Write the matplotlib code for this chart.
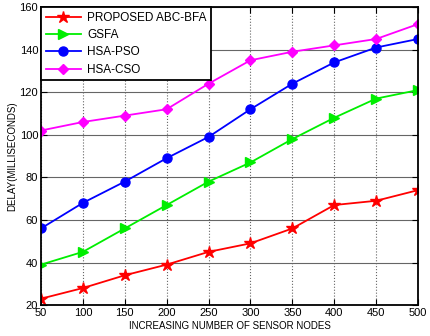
import matplotlib.pyplot as plt

plt.rcParams['font.family'] = ['Liberation Sans', 'DejaVu Sans']

nodes = [50, 100, 150, 200, 250, 300, 350, 400, 450, 500]
abc_bfa = [23, 28, 34, 39, 45, 49, 56, 67, 69, 74]
gsfa = [39, 45, 56, 67, 78, 87, 98, 108, 117, 121]
hsa_pso = [56, 68, 78, 89, 99, 112, 124, 134, 141, 145]
hsa_cso = [102, 106, 109, 112, 124, 135, 139, 142, 145, 152]

fig = plt.figure(figsize=(4.31, 3.36), dpi=100)
ax = fig.add_axes([0.095, 0.092, 0.875, 0.887])

ax.plot(nodes, abc_bfa, color='red', marker='*', markersize=9, lw=1.3, label='PROPOSED ABC-BFA')
ax.plot(nodes, gsfa, color='#00ee00', marker='>', markersize=7, lw=1.3, label='GSFA')
ax.plot(nodes, hsa_pso, color='blue', marker='o', markersize=6.5, lw=1.3, label='HSA-PSO')
ax.plot(nodes, hsa_cso, color='magenta', marker='D', markersize=5.5, lw=1.3, label='HSA-CSO')

ax.set_xlim(50, 500)
ax.set_ylim(20, 160)
ax.set_xticks(nodes)
ax.set_yticks(range(20, 161, 20))
ax.yaxis.grid(True, color='#666666', lw=0.8, ls='-')
ax.xaxis.grid(True, color='#666666', lw=0.8, ls=':')
ax.set_axisbelow(True)
ax.tick_params(direction='in', top=True, right=True, labelsize=8, length=4, pad=2)
for s in ax.spines.values():
    s.set_linewidth(1.3)

ax.set_xlabel('INCREASING NUMBER OF SENSOR NODES', fontsize=7, labelpad=2)
ax.set_ylabel('DELAY(MILLISECONDS)', fontsize=7, labelpad=2)

leg = ax.legend(loc='upper left', fontsize=8.5, fancybox=False, framealpha=1,
                edgecolor='black', borderaxespad=0.0, handlelength=3.0,
                labelspacing=0.45, borderpad=0.4, handletextpad=0.5)
leg.get_frame().set_linewidth(1.3)

fig.savefig('out.png', dpi=100)
